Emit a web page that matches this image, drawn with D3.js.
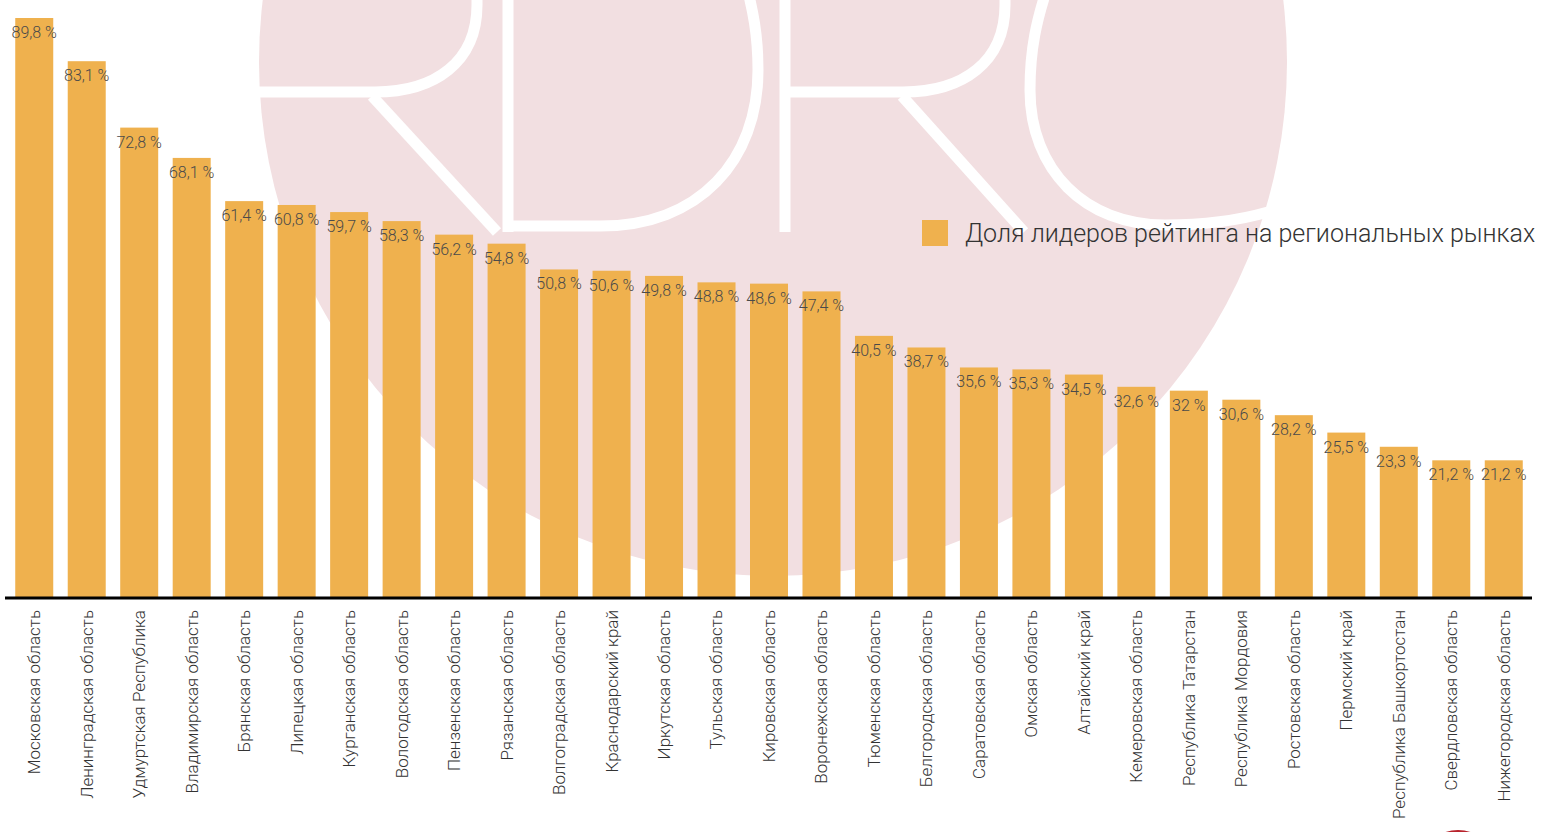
<!DOCTYPE html>
<html>
<head>
<meta charset="utf-8">
<title>Доля лидеров рейтинга</title>
<script src="https://cdn.jsdelivr.net/npm/d3@7"></script>
<style>
  body { margin: 0; background: #fff; }
  text { font-family: Roboto, "Liberation Sans", sans-serif; }
</style>
</head>
<body>
<svg width="1542" height="832" id="mainsvg"></svg>
<script>
  const regions = ['Московская область', 'Ленинградская область', 'Удмуртская Республика',
    'Владимирская область', 'Брянская область', 'Липецкая область', 'Курганская область',
    'Вологодская область', 'Пензенская область', 'Рязанская область', 'Волгоградская область',
    'Краснодарский край', 'Иркутская область', 'Тульская область', 'Кировская область',
    'Воронежская область', 'Тюменская область', 'Белгородская область', 'Саратовская область',
    'Омская область', 'Алтайский край', 'Кемеровская область', 'Республика Татарстан',
    'Республика Мордовия', 'Ростовская область', 'Пермский край', 'Республика Башкортостан',
    'Свердловская область', 'Нижегородская область']
  const shares = [89.8, 83.1, 72.8, 68.1, 61.4, 60.8, 59.7, 58.3, 56.2, 54.8, 50.8, 50.6, 49.8,
    48.8, 48.6, 47.4, 40.5, 38.7, 35.6, 35.3, 34.5, 32.6, 32, 30.6, 28.2, 25.5, 23.3, 21.2, 21.2]
  const seriesName = 'Доля лидеров рейтинга на региональных рынках'

  const svg = d3.select('#mainsvg')
  const width = +svg.attr('width')
  const height = +svg.attr('height')
  const barColor = '#efb14e'

  // watermark: pink disc with RDRC letters
  const wm = svg.append('g').attr('id', 'watermark')
  wm.append('circle')
    .attr('cx', 773).attr('cy', 62).attr('r', 514)
    .attr('fill', '#f2dfe1')
  const letters = [
    'M255,92 L375,92 C435,92 477,62 477,5 L477,-20',
    'M372,96 L497,232',
    'M508,-20 L508,232 M508,226 L600,226 C700,226 758,160 758,70 C758,35 753,10 745,-20',
    'M785,-20 L785,232',
    'M787,92 L903,92 C963,92 1005,62 1005,5 L1005,-20',
    'M902,96 L1024,232',
    'M1050,-20 C1036,20 1030,50 1030,90 C1030,170 1085,225 1165,225 C1205,225 1240,220 1268,212'
  ]
  wm.selectAll('path').data(letters).join('path')
    .attr('d', d => d)
    .attr('fill', 'none')
    .attr('stroke', '#fff')
    .attr('stroke-width', 11)
  svg.append('circle')
    .attr('cx', 1458).attr('cy', 870).attr('r', 40)
    .attr('fill', '#b8232c')

  const x = d3.scaleBand()
    .domain(regions)
    .range([8, 1530])
    .paddingInner(0.276)
    .paddingOuter(0.138)
  const y = d3.scaleLinear()
    .domain([0, d3.max(shares)])
    .range([597, 18])

  const data = regions.map((r, i) => ({ region: r, value: shares[i] }))
  const fmt = v => String(v).replace('.', ',') + ' %'

  const g = svg.append('g').attr('id', 'maingroup')

  g.selectAll('rect').data(data).join('rect')
    .attr('x', d => x(d.region))
    .attr('y', d => y(d.value))
    .attr('width', x.bandwidth())
    .attr('height', d => y(0) - y(d.value))
    .attr('fill', barColor)

  g.selectAll('.val').data(data).join('text')
    .attr('class', 'val')
    .attr('x', d => x(d.region) + x.bandwidth() / 2)
    .attr('y', d => y(d.value) + 20)
    .attr('text-anchor', 'middle')
    .attr('font-size', 16)
    .attr('font-weight', 300)
    .attr('fill', '#4a4a4a')
    .text(d => fmt(d.value))

  // x axis: only the thick baseline and rotated labels
  const xAxis = d3.axisBottom(x).tickSize(0).tickPadding(0)
  const axisG = svg.append('g')
    .attr('transform', `translate(0, ${y(0) + 1})`)
    .call(xAxis)
  axisG.select('.domain').remove()
  axisG.append('line')
    .attr('x1', 5).attr('x2', 1532)
    .attr('stroke', '#000').attr('stroke-width', 3)
  axisG.selectAll('.tick text')
    .attr('transform', 'rotate(-90)')
    .attr('text-anchor', 'end')
    .attr('x', -12)
    .attr('y', 0)
    .attr('dy', '0.35em')
    .attr('font-size', 17)
    .attr('font-weight', 300)
    .attr('font-family', 'Roboto, sans-serif')
    .attr('fill', '#333')

  // legend
  const legend = svg.append('g').attr('transform', 'translate(922, 220)')
  legend.append('rect')
    .attr('width', 26).attr('height', 26)
    .attr('fill', barColor)
  legend.append('text')
    .attr('x', 43).attr('y', 13)
    .attr('dy', '0.35em')
    .attr('font-size', 25)
    .attr('font-weight', 300)
    .attr('fill', '#333')
    .text(seriesName)
</script>
</body>
</html>
